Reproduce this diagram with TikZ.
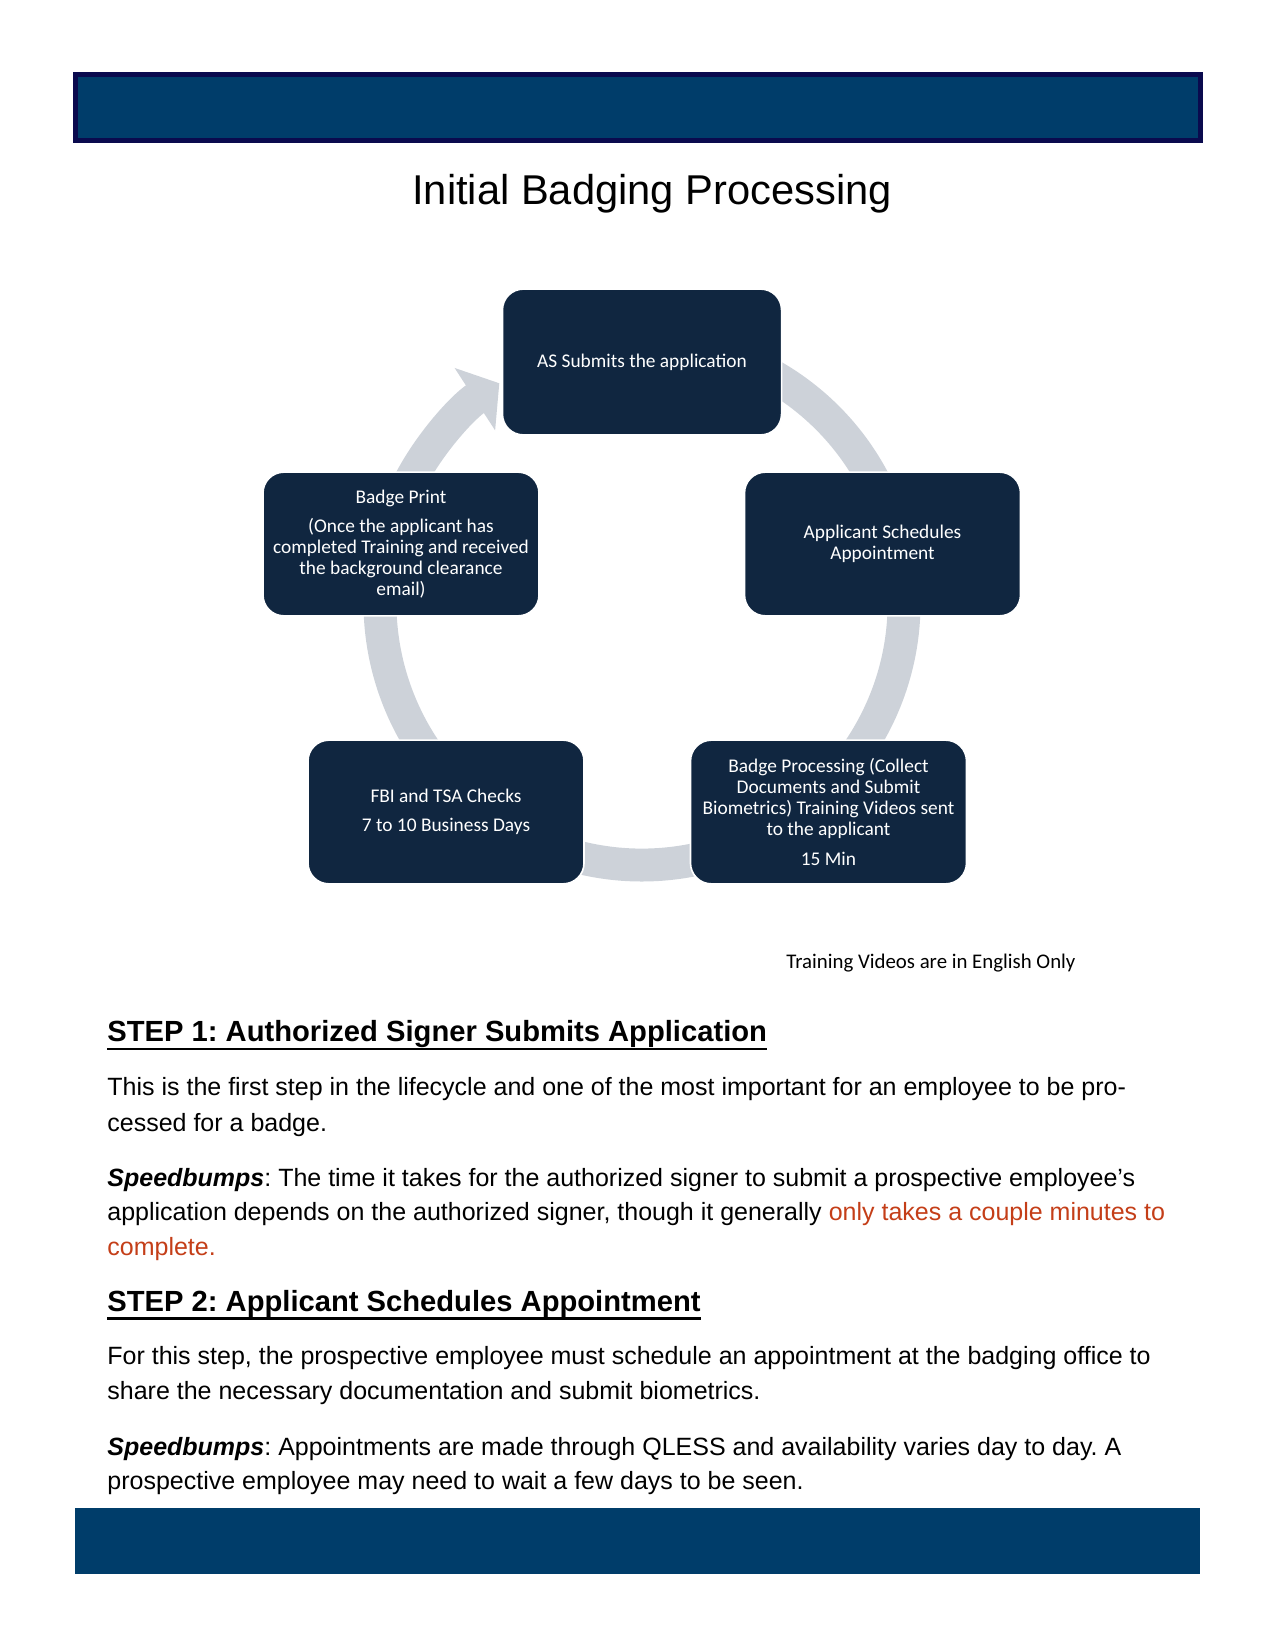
\documentclass[tikz,border=0pt]{standalone}
\usepackage{fontspec}
\setmainfont{Liberation Sans}
\newfontfamily\boxfont{Carlito}
\usetikzlibrary{arrows.meta}
\definecolor{BannerClr}{RGB}{0,61,106}
\definecolor{BannerEdge}{RGB}{10,10,78}
\definecolor{BoxClr}{RGB}{16,38,64}
\definecolor{RingClr}{RGB}{205,210,217}
\definecolor{NoteClr}{RGB}{196,62,24}
\frenchspacing

\begin{document}
\begin{tikzpicture}[x=0.48pt,y=-0.48pt,
  stepbox/.style={rectangle,rounded corners=10pt,fill=BoxClr,draw=white,line width=0.8pt,
    text=white,align=center,minimum width=132.5pt,minimum height=69pt,inner sep=2pt,
    font=\boxfont\fontsize{9.3}{10.1}\selectfont},
  bodyline/.style={anchor=base west,inner sep=0pt,font=\fontsize{12}{14}\selectfont},
  headline/.style={anchor=base west,inner sep=0pt,font=\bfseries\fontsize{14}{16}\selectfont}]
\useasboundingbox (0,0) rectangle (1275,1650);

% banners
\draw[fill=BannerClr,draw=BannerEdge,line width=2.4pt] (75,75) rectangle (1200,140.5);
\fill[BannerClr] (74.7,1507.5) rectangle (1200,1574);

\node[anchor=base,inner sep=0pt,font=\fontsize{20}{24}\selectfont] (title) at (652,205) {Initial Badging Processing};

% cycle ring
\coordinate (O) at (642,603);
\draw[RingClr,line width=15.8pt,-{Triangle[width=35pt,length=14pt]}]
  (O) ++(-60:262) arc[start angle=-60,end angle=237,radius=262];

% steps
\node[stepbox,minimum width=134pt,minimum height=70pt] (submit) at (642,362) {AS Submits the application};
\node[stepbox] (sched) at (882.5,544) {Applicant Schedules\\Appointment};
\node[stepbox] (proc) at (828.5,812) {Badge Processing (Collect\\Documents and Submit\\Biometrics) Training Videos sent\\to the applicant\\[4pt]15 Min};
\node[stepbox] (fbi) at (446,812) {FBI and TSA Checks\\[4pt]7 to 10 Business Days};
\node[stepbox] (print) at (401,544) {Badge Print\\[4pt](Once the applicant has\\completed Training and received\\the background clearance\\email)};

\node[anchor=base west,inner sep=0pt,font=\boxfont\fontsize{10}{12}\selectfont] (note) at (786,968) {Training Videos are in English Only};

% text below
\node[headline] (h1) at (107,1041) {STEP 1: Authorized Signer Submits Application};
\draw[line width=1.2pt] ([yshift=-0.6pt]h1.south west) -- ([yshift=-0.6pt]h1.south east);
\node[bodyline] (l1) at (107,1095) {This is the first step in the lifecycle and one of the most important for an employee to be pro-};
\node[bodyline] (l2) at (107,1131) {cessed for a badge.};
\node[bodyline] (l3) at (107,1186) {\textbf{\textit{Speedbumps}}: The time it takes for the authorized signer to submit a prospective employee’s};
\node[bodyline] (l4) at (107,1220) {application depends on the authorized signer, though it generally \textcolor{NoteClr}{only takes a couple minutes to}};
\node[bodyline,text=NoteClr] (l5) at (107,1255) {complete.};

\node[headline] (h2) at (107,1311) {STEP 2: Applicant Schedules Appointment};
\draw[line width=1.2pt] ([yshift=-0.6pt]h2.south west) -- ([yshift=-0.6pt]h2.south east);
\node[bodyline] (l6) at (107,1364) {For this step, the prospective employee must schedule an appointment at the badging office to};
\node[bodyline] (l7) at (107,1399) {share the necessary documentation and submit biometrics.};
\node[bodyline] (l8) at (107,1455) {\textbf{\textit{Speedbumps}}: Appointments are made through QLESS and availability varies day to day. A};
\node[bodyline] (l9) at (107,1489) {prospective employee may need to wait a few days to be seen.};

\end{tikzpicture}
\end{document}
